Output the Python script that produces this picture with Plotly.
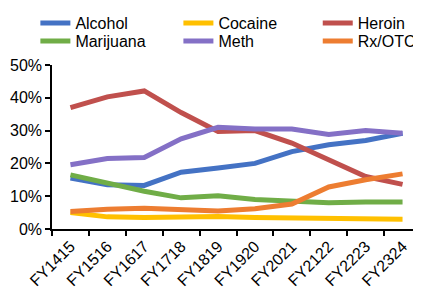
import plotly.graph_objects as go

categories = ["FY1415", "FY1516", "FY1617", "FY1718", "FY1819",
              "FY1920", "FY2021", "FY2122", "FY2223", "FY2324"]

alcohol   = [0.155, 0.135, 0.133, 0.173, 0.186, 0.200, 0.236, 0.257, 0.270, 0.292]
cocaine   = [0.050, 0.037, 0.035, 0.037, 0.038, 0.035, 0.033, 0.032, 0.030, 0.030]
heroin    = [0.370, 0.403, 0.421, 0.355, 0.297, 0.300, 0.262, 0.212, 0.160, 0.136]
marijuana = [0.165, 0.140, 0.115, 0.095, 0.101, 0.090, 0.085, 0.080, 0.082, 0.082]
meth      = [0.196, 0.215, 0.218, 0.275, 0.310, 0.305, 0.305, 0.288, 0.300, 0.292]
rx_otc    = [0.053, 0.060, 0.063, 0.058, 0.055, 0.062, 0.076, 0.128, 0.150, 0.168]

series = [
    ("Alcohol", alcohol, "#4472C4"),
    ("Cocaine", cocaine, "#FFC000"),
    ("Heroin", heroin, "#C0504D"),
    ("Marijuana", marijuana, "#70AD47"),
    ("Meth", meth, "#8470C6"),
    ("Rx/OTC", rx_otc, "#ED7D31"),
]

# legend slot positions (container fractions): columns x, rows y
legend_cols = [0.0663, 0.4126, 0.7500]
legend_rows = [0.947, 0.883]

fig = go.Figure()
layout_legends = {}
for i, (name, vals, color) in enumerate(series):
    key = "legend" if i == 0 else f"legend{i + 1}"
    fig.add_trace(go.Scatter(x=categories, y=vals, name=name, mode="lines",
                             line=dict(color=color, width=5), legend=key))
    layout_legends[key] = dict(
        orientation="v", xref="container", yref="container",
        x=legend_cols[i % 3], y=legend_rows[i // 3],
        xanchor="left", yanchor="middle",
        font=dict(size=16), itemwidth=30, bgcolor="rgba(0,0,0,0)")

fig.update_layout(
    width=413, height=283,
    margin=dict(l=44, r=0, t=57, b=62, autoexpand=False),
    paper_bgcolor="white", plot_bgcolor="white",
    font=dict(family="Liberation Sans, Arial, sans-serif", size=16, color="#000000"),
    showlegend=True,
    **layout_legends,
)
fig.update_xaxes(type="category", range=[-0.5, 9.5], showline=True,
                 linecolor="black", linewidth=1.5,
                 ticks="outside", ticklen=5, tickcolor="black", tickwidth=1.5,
                 tickson="boundaries", tickangle=-45, showgrid=False,
                 automargin=False)
fig.update_yaxes(range=[0, 0.5], dtick=0.1, tickformat=".0%", showline=True,
                 linecolor="black", linewidth=1.5, ticks="outside", ticklen=5,
                 tickcolor="black", tickwidth=1.5, showgrid=False, zeroline=False,
                 automargin=False)

fig.write_html("out.html")
